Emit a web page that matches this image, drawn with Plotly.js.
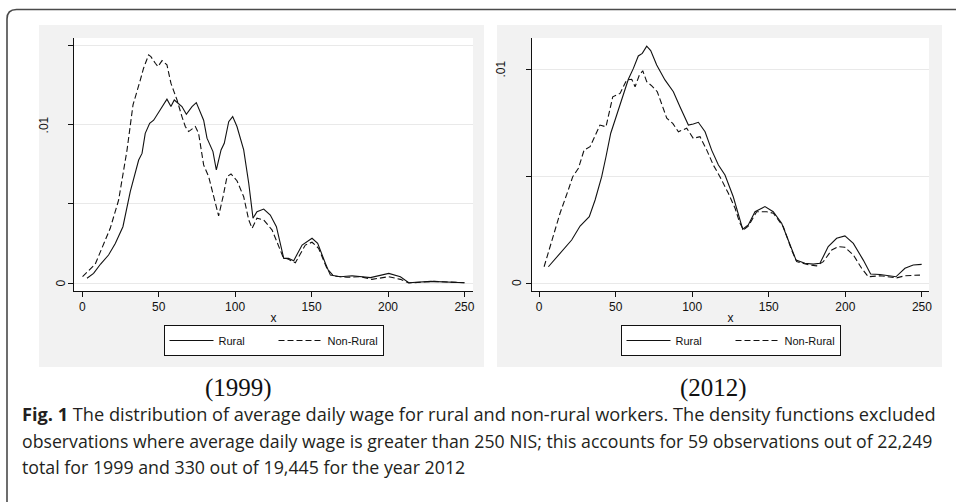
<!DOCTYPE html>
<html>
<head>
<meta charset="utf-8">
<script src="https://cdn.plot.ly/plotly-3.0.1.min.js"></script>
<style>
  html, body { margin: 0; padding: 0; background: #ffffff; }
  #chart { width: 956px; height: 502px; }
</style>
</head>
<body>
<div id="chart"></div>
<script>
// ---------- DATA ----------
const seriesNames = ["Rural", "Non-Rural"];
const panelLabels = ["(1999)", "(2012)"];
const xTickVals = [0, 50, 100, 150, 200, 250];
const yTickVals1999 = [0, 0.005, 0.01, 0.015];
const yTickVals2012 = [0, 0.005, 0.01];
const yLabelVals = [0, 0.01];
const yLabelText = ["0", ".01"];

// 1999 - Rural (solid)
const rural1999_x = [3.1, 7.4, 12, 17.2, 21.6, 26.6, 31.4, 36.9, 39.1, 41.2, 44.1, 46.7, 50, 55.4, 58, 60.2, 65.2, 68.1, 71.8, 74.6, 79.4, 81.6, 85.5, 87.7, 90.8, 92.9, 95.8, 98.4, 101.2, 105.6, 108.9, 111.7, 114.3, 118.7, 123, 127, 131.8, 134.9, 138.3, 143.8, 150.3, 154, 159, 162.3, 168.8, 176.5, 188.5, 200.5, 208.1, 213.6, 228, 250];
const rural1999_y = [0.0003, 0.00061, 0.0012, 0.00177, 0.0025, 0.00356, 0.00578, 0.00778, 0.0082, 0.00947, 0.0101, 0.0103, 0.0108, 0.01163, 0.01116, 0.01158, 0.01116, 0.01067, 0.01116, 0.01141, 0.0103, 0.00916, 0.00831, 0.00715, 0.00842, 0.00884, 0.01021, 0.01053, 0.0099, 0.00842, 0.00631, 0.0041, 0.00451, 0.00468, 0.0043, 0.00356, 0.00156, 0.00156, 0.00141, 0.0024, 0.00283, 0.00251, 0.00125, 0.0005, 0.0004, 0.00046, 0.00034, 0.00061, 0.0004, 0.00002, 0.0001, 0.00002];

// 1999 - Non-Rural (dashed)
const nonrural1999_x = [0.2, 8.5, 18.3, 23.8, 29.3, 33.2, 38, 40.1, 43.4, 44.9, 47.8, 49.5, 52.2, 55.4, 58, 62, 65.2, 67.4, 69.6, 74, 76.1, 79.4, 82.7, 86.4, 89.2, 92.1, 94.7, 97.3, 101.2, 105.6, 108.9, 111.1, 114.3, 118.7, 124.2, 131.4, 134.9, 139.4, 145.9, 150.3, 154.6, 160, 164.4, 173.1, 181.8, 189.5, 200.5, 208.1, 213.6, 230, 250];
const nonrural1999_y = [0.0004, 0.0012, 0.00346, 0.00525, 0.00842, 0.01127, 0.01285, 0.01359, 0.01443, 0.01432, 0.0139, 0.01369, 0.01407, 0.0138, 0.01264, 0.01158, 0.01053, 0.0099, 0.00958, 0.0099, 0.00947, 0.00747, 0.00673, 0.00525, 0.00424, 0.00546, 0.00673, 0.0069, 0.00647, 0.00546, 0.00399, 0.00346, 0.0041, 0.00399, 0.00335, 0.00163, 0.0015, 0.00128, 0.0024, 0.00258, 0.0022, 0.00093, 0.00044, 0.00036, 0.0004, 0.00023, 0.0004, 0.00023, 0.0, 0.0001, 0.00002];

// 2012 - Rural (solid)
const rural2012_x = [6.1, 13.7, 21.3, 26.8, 32.8, 36.6, 40.9, 43.7, 46.8, 50.7, 54, 58.3, 61.6, 64.8, 67.4, 70.3, 72.9, 76.8, 82.2, 87.7, 92, 97.5, 100.7, 104, 108.4, 112.7, 117.1, 121.4, 126.8, 130.1, 133, 136.6, 141, 147.5, 152.9, 158.4, 163.8, 167.8, 173.6, 179, 183.4, 188.8, 194.3, 199.7, 205.2, 211.7, 216.5, 222.6, 233, 238.9, 244.3, 249.8];
const rural2012_y = [0.00076, 0.00139, 0.00201, 0.00266, 0.0031, 0.00388, 0.00497, 0.0059, 0.007, 0.00785, 0.00855, 0.00952, 0.01003, 0.01061, 0.01073, 0.01107, 0.01086, 0.01019, 0.00949, 0.00894, 0.00824, 0.00738, 0.00743, 0.00751, 0.00707, 0.00621, 0.00551, 0.00505, 0.00403, 0.00318, 0.00251, 0.00271, 0.00333, 0.00357, 0.00333, 0.00279, 0.00185, 0.00107, 0.00092, 0.00088, 0.00092, 0.0017, 0.00209, 0.0022, 0.00185, 0.00107, 0.00042, 0.0004, 0.00029, 0.00069, 0.00084, 0.00087];

// 2012 - Non-Rural (dashed)
const nonrural2012_x = [3.3, 8.3, 13.7, 19.1, 22, 25.7, 29.4, 33.3, 36.6, 39.8, 43.7, 48.1, 52.9, 57.2, 60.5, 62.7, 65.5, 67.7, 70.3, 73.6, 77.2, 80.1, 83.4, 87.3, 91, 96.4, 100.7, 105.1, 109.5, 113.8, 118.1, 123.6, 128, 130.8, 133.4, 136.6, 142.1, 148.6, 153, 159.5, 164.9, 168.2, 175.8, 181.2, 185.6, 191.1, 195.5, 199.7, 205.2, 210.6, 215, 222.6, 233.5, 238.9, 248.7];
const nonrural2012_y = [0.00076, 0.00201, 0.00326, 0.00435, 0.00497, 0.00536, 0.00621, 0.00637, 0.00692, 0.00738, 0.0073, 0.0087, 0.00886, 0.00949, 0.00952, 0.00917, 0.00972, 0.00992, 0.00941, 0.00921, 0.00894, 0.00832, 0.0077, 0.00746, 0.00707, 0.00723, 0.00676, 0.00684, 0.00621, 0.00551, 0.00497, 0.00419, 0.00349, 0.00286, 0.00248, 0.00266, 0.00333, 0.00333, 0.00326, 0.00263, 0.00154, 0.001, 0.00085, 0.0008, 0.001, 0.00154, 0.0017, 0.00167, 0.00131, 0.00069, 0.00029, 0.00034, 0.00024, 0.00034, 0.00037];

const captionLines = [
  "<b>Fig. 1</b> The distribution of average daily wage for rural and non-rural workers. The density functions excluded",
  "observations where average daily wage is greater than 250 NIS; this accounts for 59 observations out of 22,249",
  "total for 1999 and 330 out of 19,445 for the year 2012"
];

// ---------- LAYOUT HELPERS ----------
const W = 956, H = 502;
const px = v => v / W;
const py = v => 1 - v / H;
const tickFont = { family: "Liberation Sans, Arial, sans-serif", size: 12, color: "#111" };

const solid = { color: "#111", width: 1.1, dash: "solid" };
const dashed = { color: "#111", width: 1.1, dash: "6px,3px" };

const traces = [
  { x: rural1999_x, y: rural1999_y, name: seriesNames[0], type: "scatter", mode: "lines", line: solid, xaxis: "x", yaxis: "y", legend: "legend" },
  { x: nonrural1999_x, y: nonrural1999_y, name: seriesNames[1], type: "scatter", mode: "lines", line: dashed, xaxis: "x", yaxis: "y", legend: "legend" },
  { x: rural2012_x, y: rural2012_y, name: seriesNames[0], type: "scatter", mode: "lines", line: solid, xaxis: "x2", yaxis: "y2", legend: "legend2" },
  { x: nonrural2012_x, y: nonrural2012_y, name: seriesNames[1], type: "scatter", mode: "lines", line: dashed, xaxis: "x2", yaxis: "y2", legend: "legend2" }
];

function xAxis(domain, range, anchor) {
  return {
    domain: domain, range: range, anchor: anchor,
    tickvals: xTickVals, ticks: "outside", ticklen: 5, tickcolor: "#111", tickwidth: 1,
    showline: true, linecolor: "#111", linewidth: 1, mirror: false,
    showgrid: false, zeroline: false, automargin: false,
    tickfont: tickFont,
    title: { text: "x", font: tickFont, standoff: 0 }
  };
}
function yAxis(domain, range, anchor, vals) {
  return {
    domain: domain, range: range, anchor: anchor,
    tickvals: vals, ticks: "outside", ticklen: 5, tickcolor: "#111", tickwidth: 1,
    showticklabels: false,
    showline: true, linecolor: "#111", linewidth: 1,
    showgrid: true, gridcolor: "#e9e9e9", gridwidth: 1,
    zeroline: false, automargin: false
  };
}

function legendBox(cx) {
  return {
    x: px(cx), xanchor: "center", y: py(325), yanchor: "top",
    orientation: "h", bgcolor: "#ffffff", bordercolor: "#111", borderwidth: 1,
    font: { family: "Liberation Sans, Arial, sans-serif", size: 11, color: "#111" },
    itemwidth: 44, entrywidthmode: "pixels", entrywidth: 50, tracegroupgap: 0
  };
}

const yDom = [py(291), py(38)];
const layout = {
  width: W, height: H,
  margin: { l: 0, r: 0, t: 0, b: 0, autoexpand: false },
  paper_bgcolor: "#ffffff", plot_bgcolor: "#ffffff",
  showlegend: true,
  hovermode: false,
  xaxis: xAxis([px(74), px(473)], [-5.4, 255.6], "y"),
  yaxis: yAxis(yDom, [-0.000506, 0.0155], "x", yTickVals1999),
  xaxis2: xAxis([px(532), px(929)], [-4.6, 254.6], "y2"),
  yaxis2: yAxis(yDom, [-0.000374, 0.01145], "x2", yTickVals2012),
  legend: legendBox(273.5),
  legend2: legendBox(730.5),
  shapes: [
    // grey graph regions
    { type: "rect", xref: "paper", yref: "paper", x0: px(39), x1: px(484), y0: py(367), y1: py(25), fillcolor: "#f2f2f2", line: { width: 0 }, layer: "below" },
    { type: "rect", xref: "paper", yref: "paper", x0: px(497), x1: px(942), y0: py(367), y1: py(25), fillcolor: "#f2f2f2", line: { width: 0 }, layer: "below" },
    // white plot regions
    { type: "rect", xref: "paper", yref: "paper", x0: px(74), x1: px(473), y0: py(291), y1: py(38), fillcolor: "#ffffff", line: { width: 0 }, layer: "below" },
    { type: "rect", xref: "paper", yref: "paper", x0: px(532), x1: px(929), y0: py(291), y1: py(38), fillcolor: "#ffffff", line: { width: 0 }, layer: "below" },
    // outer frame (top and left, rounded corner)
    { type: "path", xref: "paper", yref: "paper",
      path: `M ${px(7)},0 L ${px(7)},${py(19)} Q ${px(7)},${py(9.5)} ${px(16.5)},${py(9.5)} L 1,${py(9.5)}`,
      line: { color: "#4a4a4a", width: 1.6 }, layer: "above" }
  ],
  annotations: []
};

// y tick labels, rotated (Stata style), placed via the axis scale
[["y", 60.5, 43.5], ["y2", 517, 501.5]].forEach(([yref, x0, x1]) => {
  yLabelVals.forEach((v, i) => {
    layout.annotations.push({
      xref: "paper", yref: yref, x: px(i === 0 ? x0 : x1), y: v,
      text: yLabelText[i], textangle: -90, showarrow: false,
      xanchor: "center", yanchor: "middle", font: tickFont
    });
  });
});

// panel labels
[[238, panelLabels[0]], [713, panelLabels[1]]].forEach(([x, t]) => {
  layout.annotations.push({
    xref: "paper", yref: "paper", x: px(x), y: py(388), text: t, showarrow: false,
    xanchor: "center", yanchor: "middle",
    font: { family: "Liberation Serif, Times New Roman, serif", size: 25, color: "#111" }
  });
});

// caption
const captionSizes = [18.2, 17.7, 17.8];
[414, 440.5, 467].forEach((y, i) => {
  layout.annotations.push({
    xref: "paper", yref: "paper", x: px(20), y: py(y), text: captionLines[i], showarrow: false,
    xanchor: "left", yanchor: "middle",
    font: { family: "Open Sans, sans-serif", size: captionSizes[i], color: "#231f20" }
  });
});

Plotly.newPlot("chart", traces, layout, { displayModeBar: false, staticPlot: true });
</script>
</body>
</html>
